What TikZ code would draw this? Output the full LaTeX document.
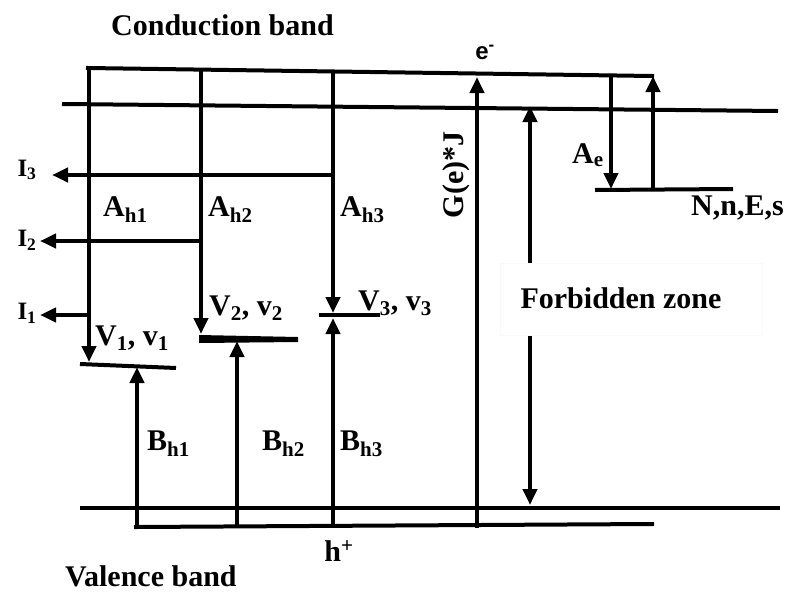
\documentclass[tikz,border=0pt]{standalone}
\usepackage{fontspec}
\setmainfont{Liberation Serif}
\newfontfamily\sansb{Liberation Sans}
\usetikzlibrary{arrows.meta}
\begin{document}
\begin{tikzpicture}[x=1pt,y=-1pt,
  ln/.style={line width=4pt,line cap=rect},
  arr/.style={line width=4pt,-{Triangle[length=16pt,width=14pt]}},
  darr/.style={line width=4pt,{Triangle[length=16pt,width=14pt]}-{Triangle[length=16pt,width=14pt]}},
  lbl/.style={font=\fontsize{30}{31}\selectfont\bfseries, inner sep=0pt, anchor=base west},
  ilbl/.style={font=\fontsize{25}{26}\selectfont\bfseries, inner sep=0pt},
]
\useasboundingbox (0,0) rectangle (787,592);
% coordinates
\coordinate (t0) at (88,68);   \coordinate (t1) at (652,76);
\coordinate (c0) at (62,104);  \coordinate (c1) at (778,111);
\coordinate (b0) at (80,508);  \coordinate (b1) at (780,508);
\coordinate (h0) at (136,527); \coordinate (h1) at (652,524);
% band lines
\draw[ln] (t0) -- (t1);
\draw[ln,line cap=butt] (c0) -- (c1);
\draw[ln,line cap=butt] (b0) -- (b1);
\draw[ln] (h0) -- (h1);
% levels
\draw[line width=4pt] (80,364) -- (176,368);
\fill (199,335) -- (298,337) -- (298,342) -- (199,343) -- cycle;
\draw[line width=4pt] (319,315) -- (380,315);
\draw[line width=4pt] (595,190) -- (733,189);
% verticals from conduction
\draw[arr] (89,66) -- (89,362);
\draw[arr] (201,68) -- (201,334);
\draw[arr] (333,70) -- (333,313);
% I arrows
\draw[arr] (333,175) -- (52,175);
\draw[arr] (201,241) -- (40,241);
\draw[arr] (89,315) -- (40,315);
% B arrows
\draw[arr] (137,529) -- (137,367);
\draw[arr] (237,528) -- (237,341);
\draw[arr] (333,528) -- (333,318);
% G(e)*J
\draw[arr] (477,528) -- (477,77);
% forbidden
\draw[darr] (530,106) -- (530,505);
\node[fill=white,draw=black!2,minimum width=262pt,minimum height=72pt,inner sep=0pt] (fz) at (631,299) {};
\node[lbl,anchor=center] (fzt) at (621,298) {Forbidden zone};
% Ae and up
\draw[arr] (611,74) -- (611,189);
\draw[arr] (653,190) -- (653,76);
% labels
\node[lbl] (cb) at (111,35) {Conduction band};
\node[lbl] (vb) at (65,586) {Valence band};
\node[font=\sansb\fontsize{24}{25}\selectfont\bfseries,inner sep=0pt] (e) at (485,52) {e\textsuperscript{-}};
\node[lbl,anchor=center] (hp) at (339,551) {h\textsuperscript{+}};
\node[lbl,anchor=center,rotate=90] (gj) at (456,175) {G(e)*J};
\node[ilbl] (i3) at (27,170) {I\textsubscript{3}};
\node[ilbl] (i2) at (27,240) {I\textsubscript{2}};
\node[ilbl] (i1) at (27,313) {I\textsubscript{1}};
\node[lbl] (ah1) at (103,216) {A\textsubscript{h1}};
\node[lbl] (ah2) at (208,216) {A\textsubscript{h2}};
\node[lbl] (ah3) at (340,216) {A\textsubscript{h3}};
\node[lbl] (v1) at (95,345) {V\textsubscript{1}, v\textsubscript{1}};
\node[lbl] (v2) at (209,315) {V\textsubscript{2}, v\textsubscript{2}};
\node[lbl] (v3) at (358,310) {V\textsubscript{3}, v\textsubscript{3}};
\node[lbl] (bh1) at (147,450) {B\textsubscript{h1}};
\node[lbl] (bh2) at (262,450) {B\textsubscript{h2}};
\node[lbl] (bh3) at (340,450) {B\textsubscript{h3}};
\node[lbl] (ae) at (572,163) {A\textsubscript{e}};
\node[lbl] (nnes) at (691,215) {N,n,E,s};
\end{tikzpicture}
\end{document}
